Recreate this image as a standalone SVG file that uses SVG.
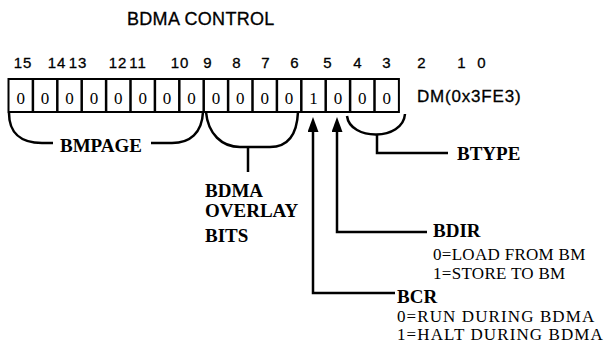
<svg xmlns="http://www.w3.org/2000/svg" width="610" height="362" viewBox="0 0 610 362">
<style>
.sans{font-family:"Liberation Sans",Arial,sans-serif;fill:#000}
.serif{font-family:"Liberation Serif","Times New Roman",serif;fill:#000}
.b{font-weight:bold}
.ln{fill:none;stroke:#000;stroke-width:2.5}
.bit{font-size:17px;text-anchor:middle}
.num{font-size:15px;text-anchor:middle;letter-spacing:1px;stroke:#000;stroke-width:0.3}
.desc{font-size:17px;letter-spacing:0.3px}
.wide{letter-spacing:1.1px}
</style>
<defs>
<marker id="ah" viewBox="0 0 15 11" refX="0" refY="5.5" markerWidth="15" markerHeight="11" markerUnits="userSpaceOnUse" orient="auto">
<path d="M0,0 L15,5.5 L0,11 z" fill="#000"/>
</marker>
</defs>
<rect width="610" height="362" fill="#fff"/>
<g id="title"><text class="sans" x="127" y="25" font-size="18" stroke="#000" stroke-width="0.3" letter-spacing="0.3">BDMA CONTROL</text></g>
<g id="bit-numbers" class="sans num">
<text x="23" y="68">15</text><text x="57" y="68">14</text><text x="78" y="68">13</text><text x="118" y="68">12</text>
<text x="138" y="68">11</text><text x="180" y="68">10</text><text x="208" y="68">9</text><text x="237" y="68">8</text>
<text x="266" y="68">7</text><text x="295" y="68">6</text><text x="328" y="68">5</text><text x="358" y="68">4</text>
<text x="387" y="68">3</text><text x="422" y="68">2</text><text x="462" y="68">1</text><text x="482" y="68">0</text>
</g>
<g id="register">
<rect x="8.5" y="79" width="390.4" height="33" fill="#fff" stroke="#000" stroke-width="2"/>
<g stroke="#000" stroke-width="2.5">
<line x1="32.9" y1="79" x2="32.9" y2="112"/><line x1="57.3" y1="79" x2="57.3" y2="112"/><line x1="81.7" y1="79" x2="81.7" y2="112"/>
<line x1="106.1" y1="79" x2="106.1" y2="112"/><line x1="130.5" y1="79" x2="130.5" y2="112"/><line x1="154.9" y1="79" x2="154.9" y2="112"/>
<line x1="179.3" y1="79" x2="179.3" y2="112"/><line x1="203.7" y1="79" x2="203.7" y2="112"/><line x1="228.1" y1="79" x2="228.1" y2="112"/>
<line x1="252.5" y1="79" x2="252.5" y2="112"/><line x1="276.9" y1="79" x2="276.9" y2="112"/><line x1="301.3" y1="79" x2="301.3" y2="112"/>
<line x1="325.7" y1="79" x2="325.7" y2="112"/><line x1="350.1" y1="79" x2="350.1" y2="112"/><line x1="374.5" y1="79" x2="374.5" y2="112"/>
</g>
<g class="serif bit">
<text x="20.7" y="103.5">0</text><text x="45.1" y="103.5">0</text><text x="69.5" y="103.5">0</text><text x="93.9" y="103.5">0</text>
<text x="118.3" y="103.5">0</text><text x="142.7" y="103.5">0</text><text x="167.1" y="103.5">0</text><text x="191.5" y="103.5">0</text>
<text x="215.9" y="103.5">0</text><text x="240.3" y="103.5">0</text><text x="264.7" y="103.5">0</text><text x="289.1" y="103.5">0</text>
<text x="313.5" y="103.5">1</text><text x="337.9" y="103.5">0</text><text x="362.3" y="103.5">0</text><text x="386.7" y="103.5">0</text>
</g>
<text class="sans" x="417" y="102" font-size="17" letter-spacing="0.8" stroke="#000" stroke-width="0.3">DM(0x3FE3)</text>
</g>
<g id="connectors">
<path class="ln" d="M9,113 C9,132 20,143 42,143 L53,143"/>
<path class="ln" d="M151,143 L172,143 C190,143 202,133 203,112"/>
<path class="ln" d="M206,112 C208,134 222,147 240,147 L270,147 C288,147 297,134 298,112"/>
<path class="ln" d="M248,147 L248,172"/>
<path class="ln" d="M347,116 C350,141 403,141 405,114"/>
<path class="ln" d="M377,135 L377,153 L448,153"/>
<path class="ln" d="M427,232 L337,232 L337,132" marker-end="url(#ah)"/>
<path class="ln" d="M395,293 L313,293 L313,132" marker-end="url(#ah)"/>
</g>
<g id="bmpage"><text class="serif b" x="60" y="152" font-size="19">BMPAGE</text></g>
<g id="overlay" class="serif b" font-size="19">
<text x="205" y="197">BDMA</text><text x="205" y="217">OVERLAY</text><text x="205" y="242">BITS</text>
</g>
<g id="btype"><text class="serif b" x="457" y="160" font-size="19">BTYPE</text></g>
<g id="bdir" class="serif">
<text class="b" x="433" y="237" font-size="19">BDIR</text>
<text class="desc" x="433" y="260">0=LOAD FROM BM</text>
<text class="desc" x="433" y="279">1=STORE TO BM</text>
</g>
<g id="bcr" class="serif">
<text class="b" x="397" y="303" font-size="19">BCR</text>
<text class="desc wide" x="397" y="322">0=RUN DURING BDMA</text>
<text class="desc wide" x="397" y="340">1=HALT DURING BDMA</text>
</g>
</svg>
